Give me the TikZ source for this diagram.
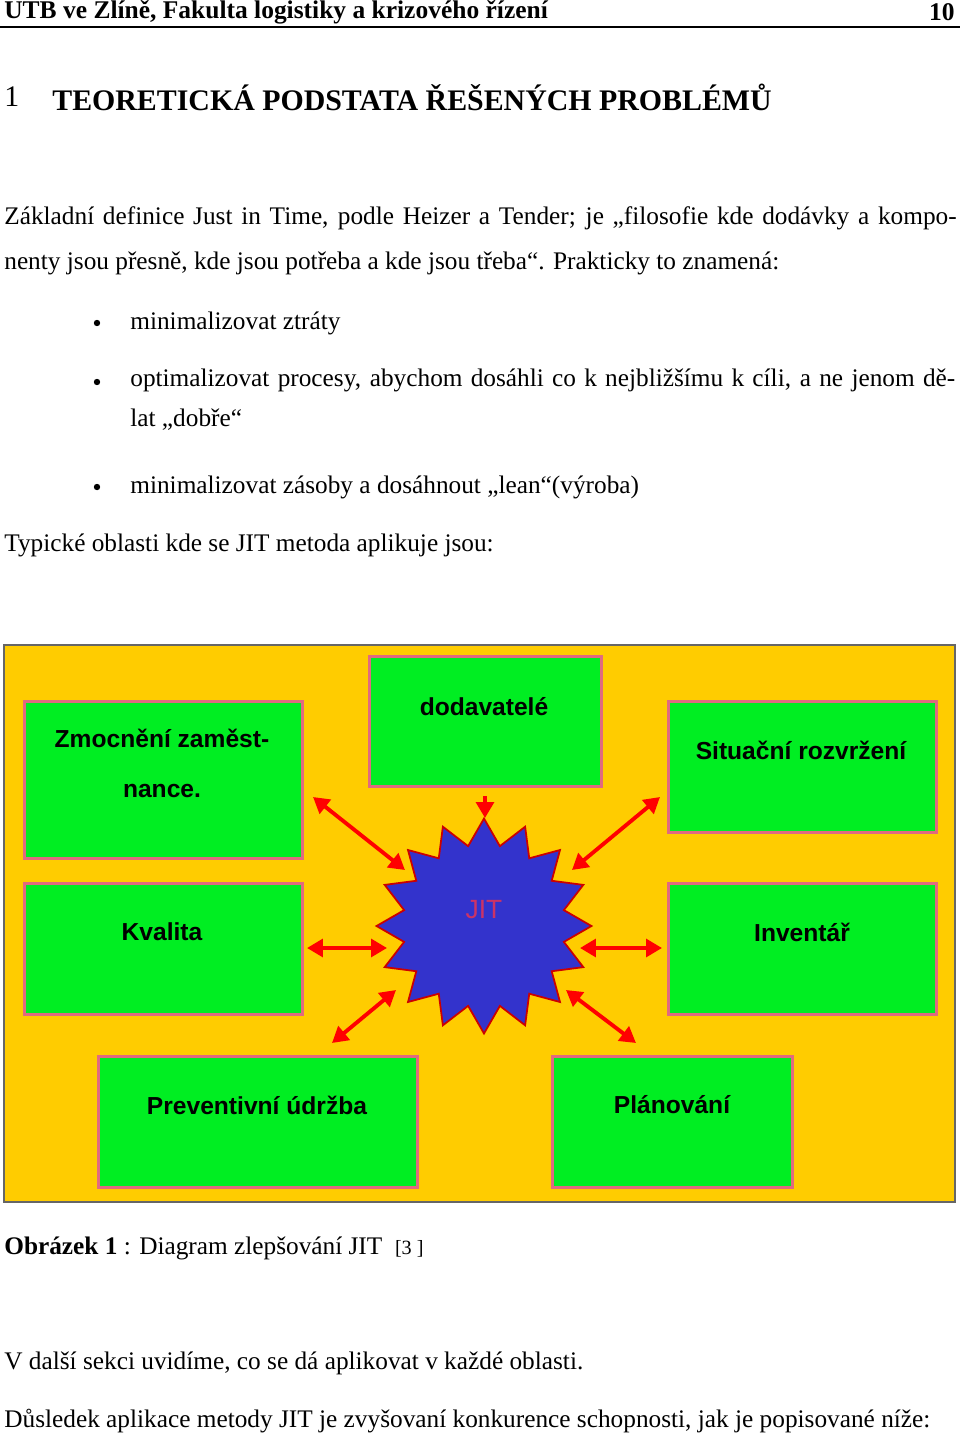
\documentclass[tikz,border=0pt]{standalone}
\usepackage{fontspec}
\setmainfont{Liberation Serif}
\setsansfont{Liberation Sans}
\usetikzlibrary{shapes.geometric, arrows.meta}
\definecolor{bgorange}{HTML}{FFCC00}
\definecolor{boxgreen}{HTML}{00EE22}
\definecolor{boxedge}{HTML}{E06A80}
\definecolor{starblue}{HTML}{3333CC}
\definecolor{jitred}{HTML}{CC3366}
\tikzstyle{body} = [anchor=west, inner sep=0pt, font=\fontsize{14.4}{16}\selectfont]
\tikzstyle{area} = [rectangle, draw=boxedge, line width=1.5pt, fill=boxgreen, anchor=north west, inner sep=0pt]
\tikzstyle{label} = [font=\sffamily\bfseries\fontsize{14}{16}\selectfont, inner sep=0pt]
\tikzstyle{arrow} = [draw=red, line width=2.2pt, {Triangle[length=9pt,width=10pt]}-{Triangle[length=9pt,width=10pt]}]

\begin{document}
\begin{tikzpicture}[x=0.02cm, y=-0.02cm]
\useasboundingbox (0,0) rectangle (960,1437);

% Header
\node (head) [body, font=\bfseries\fontsize{14.5}{16}\selectfont] at (4,12) {UTB ve Zlíně, Fakulta logistiky a krizového řízení};
\node (page) [body, anchor=east, font=\bfseries\fontsize{14.5}{16}\selectfont] at (955,12) {10};
\draw [line width=0.8pt] (0,27) -- (960,27);

% Chapter title
\node (num) [body, font=\fontsize{17}{20}\selectfont] at (4,97) {1};
\node (title) [body, font=\bfseries\fontsize{17}{20}\selectfont] at (52,97) {TEORETICKÁ PODSTATA ŘEŠENÝCH PROBLÉMŮ};

% Text
\node (par) [body, anchor=north west, text width=19.05cm, align=justify, font=\fontsize{14.4}{25.6}\selectfont] at (4,206) {Základní definice Just in Time, podle Heizer a Tender; je „filosofie kde dodávky a kompo-\linebreak nenty jsou přesně, kde jsou potřeba a kde jsou třeba“. Prakticky to znamená:};
\foreach \y in {323,382,487} \fill (97,\y) circle (3.2);
\node (b1) [body] at (130,323) {minimalizovat ztráty};
\node (b2) [body, anchor=north west, text width=16.5cm, align=justify, font=\fontsize{14.4}{22.7}\selectfont] at (130,369) {optimalizovat procesy, abychom dosáhli co k nejbližšímu k cíli, a ne jenom dě-\linebreak lat „dobře“};
\node (b3) [body] at (130,487) {minimalizovat zásoby a dosáhnout „lean“(výroba)};
\node (typ) [body] at (4,545) {Typické oblasti kde se JIT metoda aplikuje jsou:};

% Diagram
\draw [fill=bgorange, draw=black!60, line width=0.8pt] (4,645) rectangle (955,1202);

\node (zmoc) [area, minimum width=5.56cm, minimum height=3.14cm] at (23,700) {};
\node [label] at (162,738) {Zmocnění zaměst-};
\node [label] at (162,791) {nance.};
\node (dod) [area, minimum width=4.64cm, minimum height=2.6cm] at (368,655) {};
\node [label] at (484,707) {dodavatelé};
\node (sit) [area, minimum width=5.36cm, minimum height=2.62cm] at (667,700) {};
\node [label] at (801,750) {Situační rozvržení};
\node (kval) [area, minimum width=5.56cm, minimum height=2.62cm] at (23,882) {};
\node [label] at (162,932) {Kvalita};
\node (inv) [area, minimum width=5.36cm, minimum height=2.62cm] at (667,882) {};
\node [label] at (802,932) {Inventář};
\node (prev) [area, minimum width=6.38cm, minimum height=2.62cm] at (97,1055) {};
\node [label] at (257,1105) {Preventivní údržba};
\node (plan) [area, minimum width=4.8cm, minimum height=2.62cm] at (551,1055) {};
\node [label] at (672,1105) {Plánování};

% Star
\node (jit) [star, star points=16, star point ratio=1.32, minimum size=4.3cm, fill=starblue, draw=red!80!black, line width=1pt, inner sep=0pt] at (484,926) {};
\node [font=\sffamily\fontsize{15}{17}\selectfont, text=jitred] at (484,910) {JIT};

% Arrows
\coordinate (d1) at (485,796); \coordinate (d2) at (485,818);
\coordinate (z1) at (313,797); \coordinate (z2) at (405,870);
\coordinate (s1) at (660,797); \coordinate (s2) at (572,870);
\coordinate (k1) at (307,948); \coordinate (k2) at (387,948);
\coordinate (i1) at (580,948); \coordinate (i2) at (662,948);
\coordinate (p1) at (332,1043); \coordinate (p2) at (396,990);
\coordinate (l1) at (566,990); \coordinate (l2) at (636,1043);
\draw [draw=red, line width=2.2pt, -{Triangle[length=9pt,width=10pt]}] (d1) -- (d2);
\draw [arrow] (z1) -- (z2);
\draw [arrow] (s1) -- (s2);
\draw [arrow] (k1) -- (k2);
\draw [arrow] (i1) -- (i2);
\draw [arrow] (p1) -- (p2);
\draw [arrow] (l1) -- (l2);

% Caption and closing text
\node (cap) [body] at (4,1248) {\textbf{Obrázek 1} : Diagram zlepšování JIT \ {\fontsize{11.5}{13}\selectfont[3 ]}};
\node (next) [body] at (4,1363) {V další sekci uvidíme, co se dá aplikovat v každé oblasti.};
\node (dusl) [body] at (4,1421) {Důsledek aplikace metody JIT je zvyšovaní konkurence schopnosti, jak je popisované níže:};
\end{tikzpicture}
\end{document}
